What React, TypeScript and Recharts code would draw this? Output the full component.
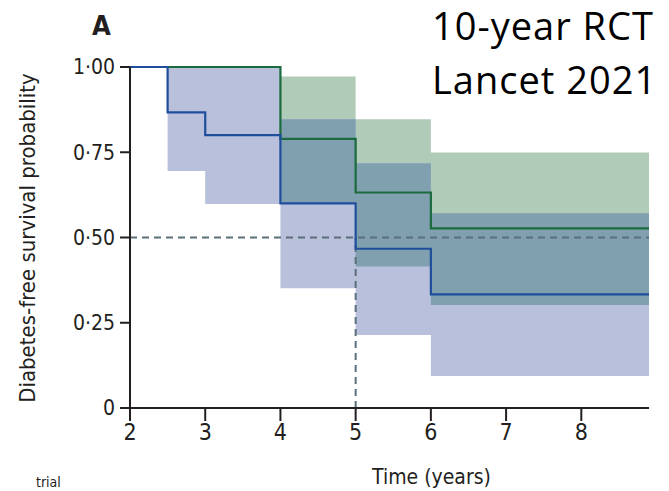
import React from 'react';
import { ComposedChart, Area, Line, XAxis, YAxis } from 'recharts';

// time points (years)
const times = [2, 2.5, 3, 4, 5, 6, 8.9];
// blue group survival and 95% CI
const blueSurv = [1, 0.867, 0.8, 0.6, 0.467, 0.333, 0.333];
const blueLow = [null, 0.695, 0.598, 0.351, 0.214, 0.094, 0.094];
const blueHigh = [null, 1, 1, 0.847, 0.718, 0.571, 0.571];
// green group survival and 95% CI
const greenSurv = [1, 1, 1, 0.789, 0.632, 0.527, 0.527];
const greenLow = [null, null, null, 0.6, 0.415, 0.302, 0.302];
const greenHigh = [null, null, null, 0.972, 0.847, 0.749, 0.749];

const xTicks = [2, 3, 4, 5, 6, 7, 8];
const yTicks = [0, 0.25, 0.5, 0.75, 1];

const medianH = [
  { t: 2, v: 0.5 },
  { t: 8.9, v: 0.5 },
];
const medianV = [
  { t: 5, v: 0 },
  { t: 5, v: 0.5 },
];

const table = times.map((t, i) => {
  const bl = blueLow[i];
  const bh = blueHigh[i];
  const gl = greenLow[i];
  const gh = greenHigh[i];
  const both = bl != null && bh != null && gl != null && gh != null;
  return {
    t,
    blue: blueSurv[i],
    green: greenSurv[i],
    blueCI: bl != null && bh != null ? [bl, bh] : null,
    greenCI: gl != null && gh != null ? [gl, gh] : null,
    overlap: both ? [Math.max(bl as number, gl as number), Math.min(bh as number, gh as number)] : null,
  };
});

const narrow = '"Liberation Sans Narrow", "DejaVu Sans Condensed", "Roboto", sans-serif';
const ink = '#231f20';

const fmtY = (v: number) => (v === 0 ? '0' : v.toFixed(2).replace('.', '\u00B7'));

export default function App() {
  return (
    <div
      style={{
        position: 'absolute',
        left: 0,
        top: 0,
        width: 669,
        height: 491,
        overflow: 'hidden',
        background: '#fff',
      }}
    >
      <ComposedChart
        width={669}
        height={491}
        data={table}
        margin={{ top: 67, right: 20, bottom: 53, left: 0 }}
      >
        <XAxis
          dataKey="t"
          type="number"
          domain={[2, 8.9]}
          ticks={xTicks}
          allowDataOverflow
          height={30}
          tickSize={13}
          tickMargin={3}
          axisLine={{ stroke: ink, strokeWidth: 2 }}
          tickLine={{ stroke: ink, strokeWidth: 2 }}
          tick={{ fill: ink, fontSize: 23, fontFamily: narrow }}
        />
        <YAxis
          type="number"
          domain={[0, 1]}
          ticks={yTicks}
          tickFormatter={fmtY}
          width={130}
          tickSize={10}
          tickMargin={5}
          axisLine={{ stroke: ink, strokeWidth: 2 }}
          tickLine={{ stroke: ink, strokeWidth: 2 }}
          tick={{ fill: ink, fontSize: 21, fontFamily: narrow }}
        />
        <Area
          dataKey="greenCI"
          type="stepAfter"
          fill="#b0ccb8"
          fillOpacity={1}
          stroke="none"
          isAnimationActive={false}
          dot={false}
          activeDot={false}
        />
        <Area
          dataKey="blueCI"
          type="stepAfter"
          fill="#b8c0dc"
          fillOpacity={1}
          stroke="none"
          isAnimationActive={false}
          dot={false}
          activeDot={false}
        />
        <Area
          dataKey="overlap"
          type="stepAfter"
          fill="#80a0b0"
          fillOpacity={1}
          stroke="none"
          isAnimationActive={false}
          dot={false}
          activeDot={false}
        />
        <Line
          data={medianH}
          dataKey="v"
          type="linear"
          stroke="#5a6f7a"
          strokeWidth={2}
          strokeDasharray="7 5"
          dot={false}
          activeDot={false}
          isAnimationActive={false}
        />
        <Line
          data={medianV}
          dataKey="v"
          type="linear"
          stroke="#5a6f7a"
          strokeWidth={2}
          strokeDasharray="7 5"
          dot={false}
          activeDot={false}
          isAnimationActive={false}
        />
        <Line
          dataKey="green"
          type="stepAfter"
          stroke="#1b6b3e"
          strokeWidth={2.2}
          dot={false}
          activeDot={false}
          isAnimationActive={false}
        />
        <Line
          dataKey="blue"
          type="stepAfter"
          stroke="#1f4f9c"
          strokeWidth={2.2}
          dot={false}
          activeDot={false}
          isAnimationActive={false}
        />
      </ComposedChart>

      <div
        style={{
          position: 'absolute',
          left: 92,
          top: 12,
          fontFamily: narrow,
          fontWeight: 'bold',
          fontSize: 27,
          color: ink,
          lineHeight: 1,
        }}
      >
        A
      </div>
      <div
        style={{
          position: 'absolute',
          left: 432,
          top: -2,
          fontFamily: '"Open Sans", Lato, sans-serif',
          fontSize: 38,
          letterSpacing: 1,
          color: '#000',
          lineHeight: '54px',
          whiteSpace: 'nowrap',
        }}
      >
        10-year RCT
        <br />
        Lancet 2021
      </div>
      <div
        style={{
          position: 'absolute',
          left: 28,
          top: 238,
          width: 0,
          height: 0,
        }}
      >
        <div
          style={{
            position: 'absolute',
            left: 0,
            top: 0,
            transform: 'translate(-50%, -50%) rotate(-90deg)',
            fontFamily: narrow,
            fontSize: 22,
            color: ink,
            whiteSpace: 'nowrap',
            lineHeight: 1,
          }}
        >
          Diabetes-free survival probability
        </div>
      </div>
      <div
        style={{
          position: 'absolute',
          left: 372,
          top: 467,
          fontFamily: narrow,
          fontSize: 21,
          color: ink,
          whiteSpace: 'nowrap',
          lineHeight: 1,
        }}
      >
        Time (years)
      </div>
      <div
        style={{
          position: 'absolute',
          left: 36,
          top: 475,
          fontFamily: narrow,
          fontSize: 14,
          color: ink,
          whiteSpace: 'nowrap',
          lineHeight: 1,
        }}
      >
        trial
      </div>
    </div>
  );
}
